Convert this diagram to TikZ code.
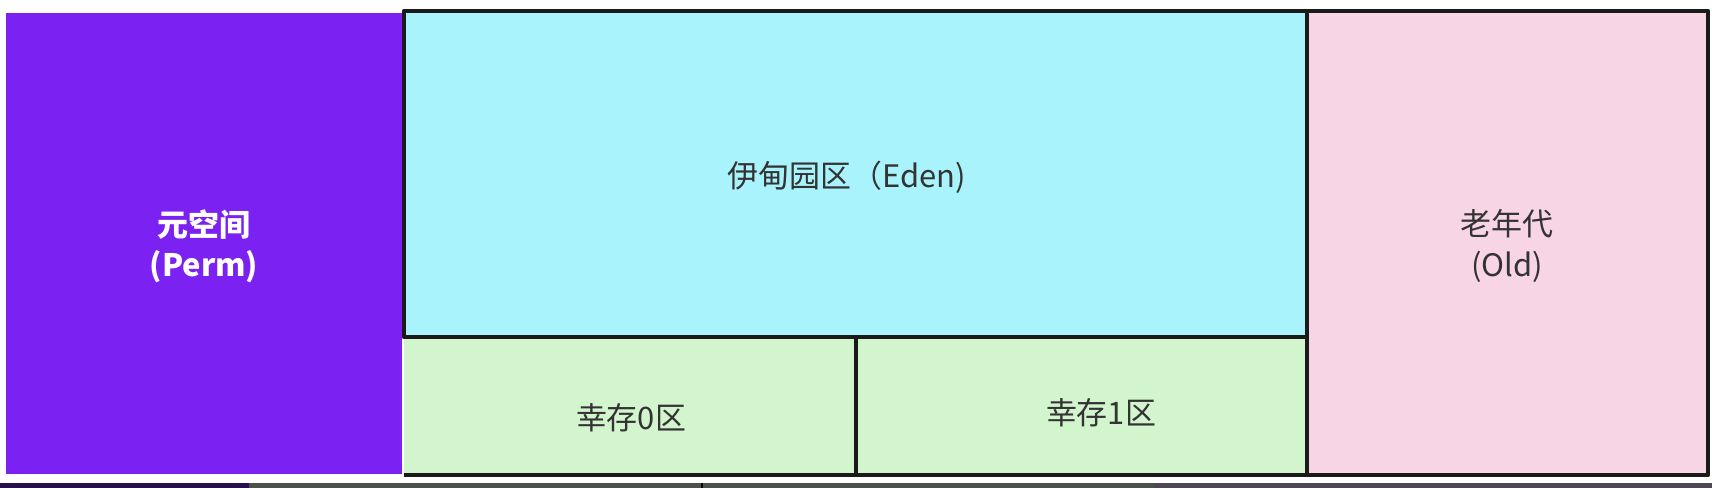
\documentclass[tikz,border=0pt]{standalone}
\usepackage{fontspec}
\setmainfont{Noto Sans CJK SC}
\definecolor{permc}{HTML}{7B22F2}
\definecolor{edenc}{HTML}{A9F3FC}
\definecolor{survc}{HTML}{D3F5CE}
\definecolor{oldc}{HTML}{F8D5E5}
\definecolor{textc}{HTML}{333333}
\definecolor{linec}{HTML}{1A1A1A}
\definecolor{barA}{HTML}{2A0F4F}
\definecolor{barB}{HTML}{4A5148}
\definecolor{barC}{HTML}{4E4650}
\begin{document}
\begin{tikzpicture}[x=0.01cm, y=-0.01cm, line join=round, line width=1.2pt,
  font=\fontsize{8.8}{11.4}\selectfont,
  lbl/.style={align=center, inner sep=0pt, text=textc}]
	\useasboundingbox (0,0) rectangle (1712,488);
	\fill[white] (0,0) rectangle (1712,488);
	% screen bar at the bottom
	\fill[barA] (0,483) rectangle (249,488);
	\fill[barB] (249,483) rectangle (1154,488);
	\fill[barC] (1154,483) rectangle (1712,488);
	\draw[line width=0.6pt] (702,483) -- (702,488);
	% areas
	\fill[permc] (6,13) rectangle (402,474);
	\fill[survc] (404,337) rectangle (1307,475);
	\filldraw[draw=linec, fill=edenc] (404,11) rectangle (1307,337);
	\filldraw[draw=linec, fill=oldc] (1307,11) rectangle (1708,475);
	\draw[linec] (404,475) -- (1307,475);
	\draw[linec] (856,337) -- (856,475);
	% texts
	\node[lbl, text=white, font=\fontsize{8.8}{11.4}\selectfont\bfseries] (perm) at (204,246) {元空间\\(Perm)};
	\node[lbl] (eden) at (847,177) {伊甸园区（Eden)};
	\node[lbl] (surv0) at (631,418) {幸存0区};
	\node[lbl] (surv1) at (1101,413) {幸存1区};
	\node[lbl] (old) at (1507,246) {老年代\\(Old)};
\end{tikzpicture}
\end{document}
